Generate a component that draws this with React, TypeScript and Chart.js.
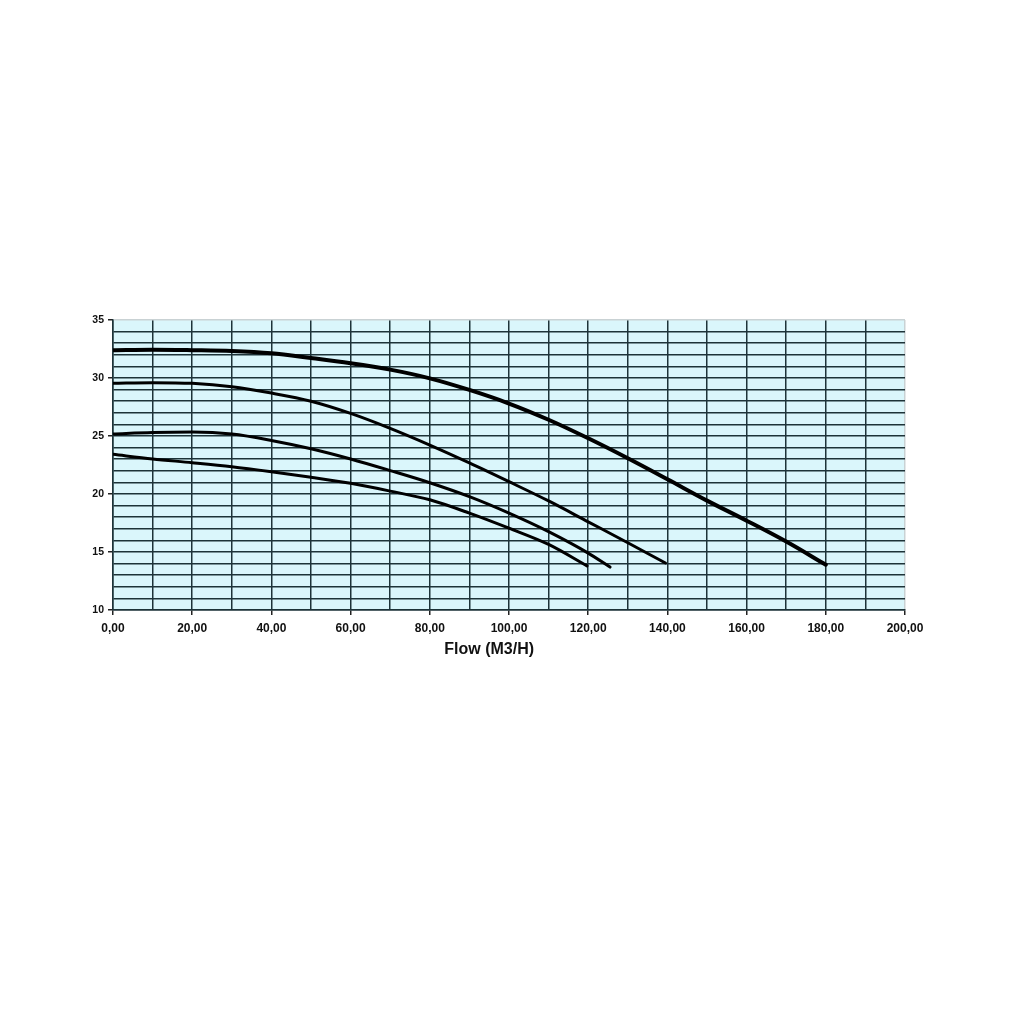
import { useEffect, useRef } from "react";
import { Chart, registerables } from "chart.js";

Chart.register(...registerables);

// pump curves: flow (m3/h) vs head
const curveAFlow = [0, 10, 20, 30, 40, 50, 60, 70, 80, 90, 100, 110, 120, 130, 140, 150, 160, 170, 180];
const curveAHead = [32.4, 32.44, 32.4, 32.33, 32.13, 31.72, 31.27, 30.72, 29.97, 28.97, 27.8, 26.4, 24.8, 23.08, 21.27, 19.43, 17.7, 15.9, 13.9];

const curveBFlow = [0, 10, 20, 30, 40, 50, 60, 70, 80, 90, 100, 110, 120, 130, 139.5];
const curveBHead = [29.54, 29.6, 29.54, 29.25, 28.7, 28.0, 26.95, 25.66, 24.22, 22.68, 21.06, 19.4, 17.6, 15.8, 14.05];

const curveCFlow = [0, 10, 20, 30, 40, 50, 60, 70, 80, 90, 100, 110, 120, 125.5];
const curveCHead = [25.17, 25.3, 25.34, 25.17, 24.62, 23.9, 23.02, 22.02, 20.97, 19.77, 18.35, 16.75, 14.9, 13.7];

const curveDFlow = [0, 10, 20, 30, 40, 50, 60, 70, 80, 90, 100, 110, 119.7];
const curveDHead = [23.42, 23.02, 22.7, 22.35, 21.92, 21.45, 20.92, 20.25, 19.5, 18.35, 17.05, 15.65, 13.8];

const xTitle = "Flow (M3/H)";

const GRID = "#1d3338";
const EDGE = "#c9d2d4";
const FONT = "'Liberation Sans', Arial, sans-serif";

const toPoints = (xs: number[], ys: number[]) => xs.map((x, i) => ({ x, y: ys[i] }));

const line = (xs: number[], ys: number[], width: number) => ({
  data: toPoints(xs, ys),
  borderColor: "#000",
  borderWidth: width,
  pointRadius: 0,
  cubicInterpolationMode: "monotone" as const,
  borderCapStyle: "round" as const,
  fill: false,
});

const plotBackground = {
  id: "plotBackground",
  beforeDraw(chart: any) {
    const { ctx, chartArea } = chart;
    ctx.save();
    ctx.fillStyle = "#daf6fb";
    ctx.fillRect(chartArea.left, chartArea.top, chartArea.right - chartArea.left, chartArea.bottom - chartArea.top);
    ctx.restore();
  },
};

// axis title sits a little left of centre in the original
const flowTitle = {
  id: "flowTitle",
  afterDraw(chart: any) {
    const { ctx, chartArea, scales } = chart;
    ctx.save();
    ctx.font = `bold 16px ${FONT}`;
    ctx.fillStyle = "#111";
    ctx.textAlign = "center";
    ctx.textBaseline = "middle";
    ctx.fillText(xTitle, scales.x.getPixelForValue(95), chartArea.bottom + 40);
    ctx.restore();
  },
};

export default function App() {
  const chartRef = useRef<HTMLCanvasElement>(null);

  useEffect(() => {
    if (!chartRef.current) return;

    const chartInstance = new Chart(chartRef.current, {
      type: "line",
      data: {
        datasets: [
          line(curveAFlow, curveAHead, 4),
          line(curveBFlow, curveBHead, 3),
          line(curveCFlow, curveCHead, 3),
          line(curveDFlow, curveDHead, 3),
        ],
      },
      options: {
        responsive: false,
        animation: false,
        layout: { padding: { top: 320, right: 116, bottom: 381, left: 0 } },
        plugins: {
          legend: { display: false },
          tooltip: { enabled: false },
        },
        scales: {
          x: {
            type: "linear",
            min: 0,
            max: 200,
            afterFit: (scale: any) => {
              scale.height = 30;
            },
            ticks: {
              stepSize: 10,
              autoSkip: false,
              maxRotation: 0,
              padding: 6,
              color: "#111",
              font: { family: FONT, size: 12, weight: "bold" },
              callback: (v: any) => (Number(v) % 20 === 0 ? Number(v).toFixed(2).replace(".", ",") : ""),
            },
            grid: {
              lineWidth: 1.5,
              tickLength: 5,
              color: (ctx: any) => (ctx.tick?.value === 200 ? EDGE : GRID),
              tickColor: (ctx: any) => (ctx.tick?.value % 20 === 0 ? "#222" : "rgba(0,0,0,0)"),
            },
            border: { color: GRID, width: 1.5 },
          },
          y: {
            min: 10,
            max: 35,
            afterFit: (scale: any) => {
              scale.width = 113;
            },
            ticks: {
              stepSize: 1,
              autoSkip: false,
              padding: 4,
              color: "#111",
              font: { family: FONT, size: 10.5, weight: "bold" },
              callback: (v: any) => (Number(v) % 5 === 0 ? String(v) : ""),
            },
            grid: {
              lineWidth: 1.5,
              tickLength: 5,
              color: (ctx: any) => (ctx.tick?.value === 35 ? EDGE : GRID),
              tickColor: (ctx: any) => (ctx.tick?.value % 5 === 0 ? "#222" : "rgba(0,0,0,0)"),
            },
            border: { color: GRID, width: 1.5 },
          },
        },
      },
      plugins: [plotBackground, flowTitle],
    });

    return () => {
      chartInstance.destroy();
    };
  }, []);

  return (
    <div style={{ position: "absolute", left: 0, top: 0, width: 1021, height: 1021, background: "#fff" }}>
      <canvas ref={chartRef} width={1021} height={1021}></canvas>
    </div>
  );
}
